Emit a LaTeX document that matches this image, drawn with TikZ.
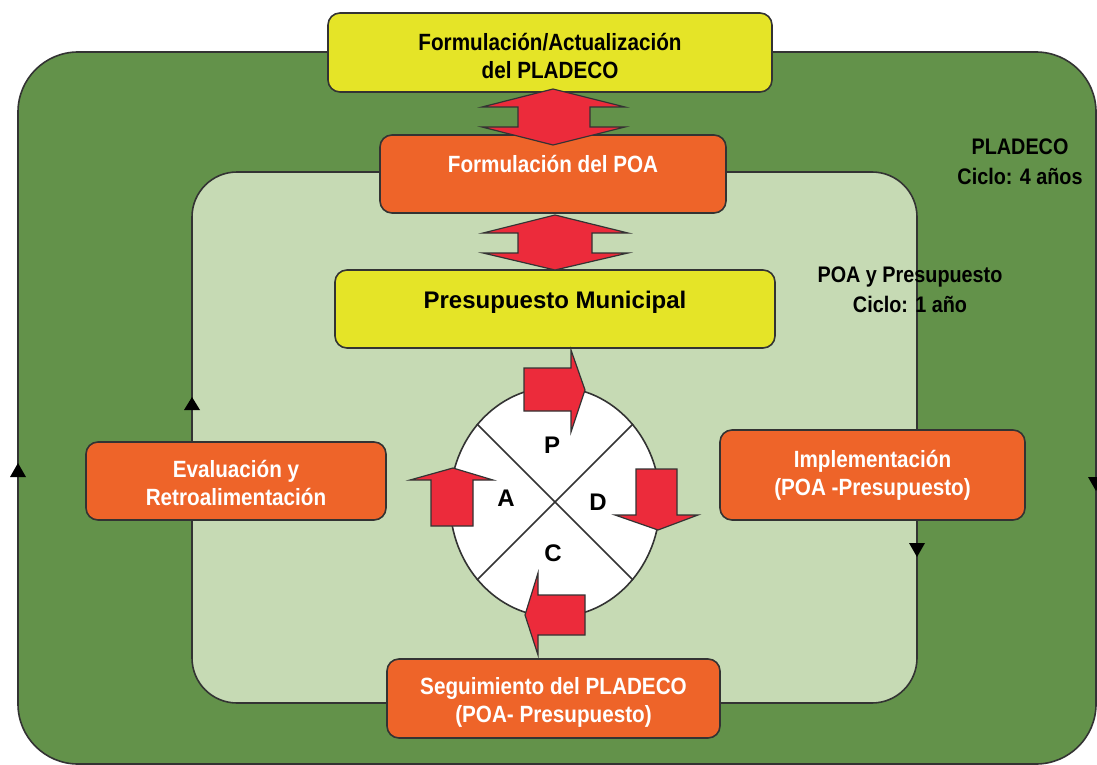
\documentclass[tikz,border=0pt]{standalone}
\usepackage{fontspec}
\setmainfont{Liberation Sans}
\newfontfamily\cond{Liberation Sans}[FakeStretch=0.88]
\newfontfamily\wide{Liberation Sans}
\usetikzlibrary{shapes.geometric}
\definecolor{outergreen}{HTML}{63924A}
\definecolor{innergreen}{HTML}{C6DAB4}
\definecolor{boxyellow}{HTML}{E5E427}
\definecolor{boxorange}{HTML}{EE6429}
\definecolor{arrred}{HTML}{EC2B3B}
\definecolor{edge}{HTML}{333333}
\tikzset{
  frame/.style={draw=edge, line width=1.6pt},
  ybox/.style={frame, fill=boxyellow, rounded corners=12pt, inner sep=0pt},
  obox/.style={frame, fill=boxorange, rounded corners=12pt, inner sep=0pt},
  wtext/.style={text=white, font=\cond\bfseries\fontsize{23.5}{28}\selectfont, align=center, inner sep=0pt},
  btext/.style={text=black, font=\cond\bfseries\fontsize{23.5}{28}\selectfont, align=center, inner sep=0pt},
  sidetext/.style={text=black, font=\cond\bfseries\fontsize{22.5}{30}\selectfont, align=center, inner sep=0pt},
  letter/.style={text=black, font=\wide\bfseries\fontsize{24}{24}\selectfont, inner sep=0pt},
  redarrow/.style={fill=arrred, draw=edge, line width=1.2pt, line join=miter},
  marker/.style={fill=black, draw=none},
}
\begin{document}
\begin{tikzpicture}[x=1pt, y=-1pt]
\useasboundingbox (0,0) rectangle (1097,765);
% cycles
\draw[frame, fill=outergreen, rounded corners=60pt] (18,52) rectangle (1096,764);
\draw[frame, fill=innergreen, rounded corners=45pt] (192,172) rectangle (917,703);
% direction markers on the cycle borders
\fill[marker] (18,463) -- (26,477) -- (10,477) -- cycle;
\fill[marker] (192,397) -- (200,410) -- (184,410) -- cycle;
\fill[marker] (917,557) -- (925,543) -- (909,543) -- cycle;
\fill[marker] (1096,491) -- (1104,477) -- (1088,477) -- cycle;
% side labels
\node[sidetext] (pladeco) at (1020,162) {PLADECO\\Ciclo: 4 años};
\node[sidetext] (poaciclo) at (910,290) {POA y Presupuesto\\Ciclo: 1 año};
% boxes
\node[ybox, minimum width=444pt, minimum height=79pt] (form) at (550,52.5) {};
\node[btext] (formt) at (550,56) {Formulación/Actualización\\del PLADECO};
\node[obox, minimum width=346pt, minimum height=78pt] (poa) at (553,174) {};
\node[wtext] (poat) at (553,164) {Formulación del POA};
\node[ybox, minimum width=440pt, minimum height=78pt] (pres) at (555,309) {};
\node[text=black, font=\wide\bfseries\fontsize{24}{28}\selectfont, inner sep=0pt] (prest) at (555,302) {Presupuesto Municipal};
\node[obox, minimum width=300pt, minimum height=78pt] (eval) at (236,481) {};
\node[wtext] (evalt) at (236,483) {Evaluación y\\Retroalimentación};
\node[obox, minimum width=305pt, minimum height=90pt] (impl) at (872.5,475) {};
\node[wtext] (implt) at (872.5,475) {Implementación\\(POA -Presupuesto)};
\node[obox, minimum width=333pt, minimum height=79pt] (seg) at (553.5,698.5) {};
\node[wtext] (segt) at (553.5,702) {Seguimiento del PLADECO\\(POA- Presupuesto)};
% double arrows
\draw[redarrow] (553,89) -- (625,107) -- (590,107) -- (590,127) -- (625,127) -- (553,145)
  -- (482,127) -- (518,127) -- (518,107) -- (482,107) -- cycle;
\draw[redarrow] (555,215) -- (628,233) -- (592,233) -- (592,253) -- (628,253) -- (555,270)
  -- (483,253) -- (518,253) -- (518,233) -- (483,233) -- cycle;
% PDCA circle
\node[ellipse, draw=edge, line width=1.6pt, fill=white, minimum width=210pt, minimum height=230pt, inner sep=0pt] (pdca) at (555,502) {};
\draw[edge, line width=1.6pt] (pdca.135) -- (pdca.315);
\draw[edge, line width=1.6pt] (pdca.45) -- (pdca.225);
\node[letter] (P) at (552,445) {P};
\node[letter] (A) at (506,498) {A};
\node[letter] (D) at (598,502) {D};
\node[letter] (C) at (553,553) {C};
% PDCA arrows
\draw[redarrow] (524,368) -- (571,368) -- (571,350) -- (585,390) -- (571,432) -- (571,411) -- (524,411) -- cycle;
\draw[redarrow] (636,469) -- (677,469) -- (677,515) -- (698,515) -- (658,530) -- (615,515) -- (636,515) -- cycle;
\draw[redarrow] (585,595) -- (538,595) -- (538,573) -- (525,615) -- (538,655) -- (538,635) -- (585,635) -- cycle;
\draw[redarrow] (431,526) -- (431,480) -- (410,480) -- (453,468) -- (493,480) -- (473,480) -- (473,526) -- cycle;
\end{tikzpicture}
\end{document}
